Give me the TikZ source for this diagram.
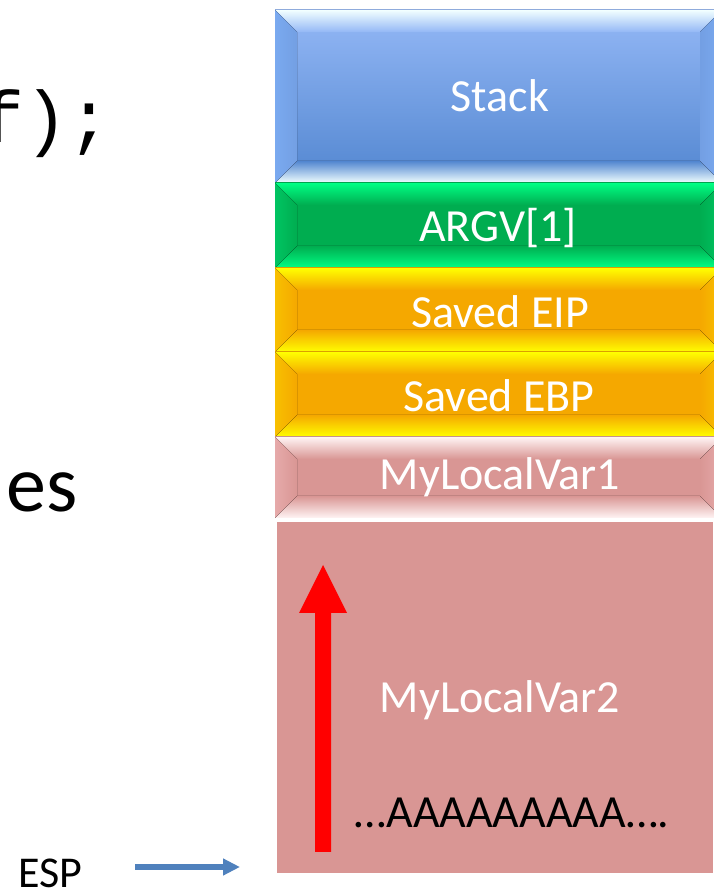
\documentclass[tikz,border=0pt]{standalone}
\usepackage{fontspec}
\newfontfamily\calfont{Carlito}
\newfontfamily\monofont{Liberation Mono}
\usetikzlibrary{arrows.meta}
\definecolor{pinkbase}{HTML}{D99694}
\definecolor{espblue}{HTML}{4F81BD}
\tikzset{
  lbl/.style={anchor=base, inner sep=0pt, text=white, font=\calfont\fontsize{46}{50}\selectfont},
  blk/.style={anchor=base, inner sep=0pt, text=black, font=\calfont\fontsize{46}{50}\selectfont}
}
% #1 x1, #2 bottom, #3 x2, #4 top, #5 main top colour, #6 main bottom colour, #7 edge highlight, #8 side colour
\newcommand\bevelblock[8]{%
  \fill[top color=#5,bottom color=#6] (#1,#2) rectangle (#3,#4);
  \fill[top color=#7,bottom color=#5] (#1,#4) -- (#3,#4) -- ({#3-22},{#4-22}) -- ({#1+22},{#4-22}) -- cycle;
  \fill[top color=#6,bottom color=#7] (#1,#2) -- (#3,#2) -- ({#3-22},{#2+22}) -- ({#1+22},{#2+22}) -- cycle;
  \fill[left color=#8,right color=#5!50!#6] (#1,#2) -- ({#1+22},{#2+22}) -- ({#1+22},{#4-22}) -- (#1,#4) -- cycle;
  \fill[right color=#8,left color=#5!50!#6] (#3,#2) -- ({#3-22},{#2+22}) -- ({#3-22},{#4-22}) -- (#3,#4) -- cycle;
}
\definecolor{stkA}{HTML}{94B8F6}
\definecolor{stkB}{HTML}{5286D0}
\definecolor{stkC}{HTML}{F2FFFF}
\definecolor{stkD}{HTML}{7AAAF0}
\definecolor{grnA}{HTML}{00AD50}
\definecolor{grnC}{HTML}{00FF84}
\definecolor{grnD}{HTML}{00C462}
\definecolor{orgA}{HTML}{F5A800}
\definecolor{orgC}{HTML}{FFFF00}
\definecolor{orgD}{HTML}{F8C000}
\definecolor{pnkC}{HTML}{FFF4F4}
\definecolor{pnkD}{HTML}{E6AAAA}
\begin{document}
\begin{tikzpicture}[x=1pt,y=1pt]
\useasboundingbox (0,0) rectangle (713,891);
\fill[white] (0,0) rectangle (713,891);
% stack blocks
\bevelblock{275}{708}{722}{881}{stkA}{stkB}{stkC}{stkD}
\bevelblock{275}{623}{722}{708}{grnA}{grnA}{grnC}{grnD}
\bevelblock{275}{539}{722}{623}{orgA}{orgA}{orgC}{orgD}
\bevelblock{275}{454}{722}{539}{orgA}{orgA}{orgC}{orgD}
\bevelblock{275}{373}{722}{454}{pinkbase}{pinkbase}{pnkC}{pnkD}
\fill[pinkbase] (277,18) rectangle (713,369);
% red arrow
\fill[red] (315,39) -- (331,39) -- (331,278) -- (347,278) -- (323,326) -- (299,278) -- (315,278) -- cycle;
% labels
\node[lbl] (stack) at (500,779) {Stack};
\node[lbl] (argv) at (498,649) {ARGV[1]};
\node[lbl] (eip) at (500,563) {Saved EIP};
\node[lbl] (ebp) at (499,479) {Saved EBP};
\node[lbl] (lv1) at (500,401) {MyLocalVar1};
\node[lbl] (lv2) at (500,178) {MyLocalVar2};
\node[blk] (aaa) at (512,63) {…AAAAAAAAA….};
% left side texts
\node[anchor=base west, inner sep=0pt, font=\monofont\fontsize{73}{80}\selectfont] (code) at (-20,748) {f);};
\node[anchor=base west, inner sep=0pt, font=\calfont\fontsize{80}{88}\selectfont] (es) at (6,379) {es};
\node[anchor=base west, inner sep=0pt, font=\calfont\fontsize{44}{48}\selectfont] (esp) at (18,4) {ESP};
\coordinate (espA) at (135,24);
\coordinate (espB) at (240,24);
\draw[espblue, line width=6pt, -{Triangle[length=17pt,width=16pt]}] (espA) -- (espB);
\end{tikzpicture}
\end{document}
